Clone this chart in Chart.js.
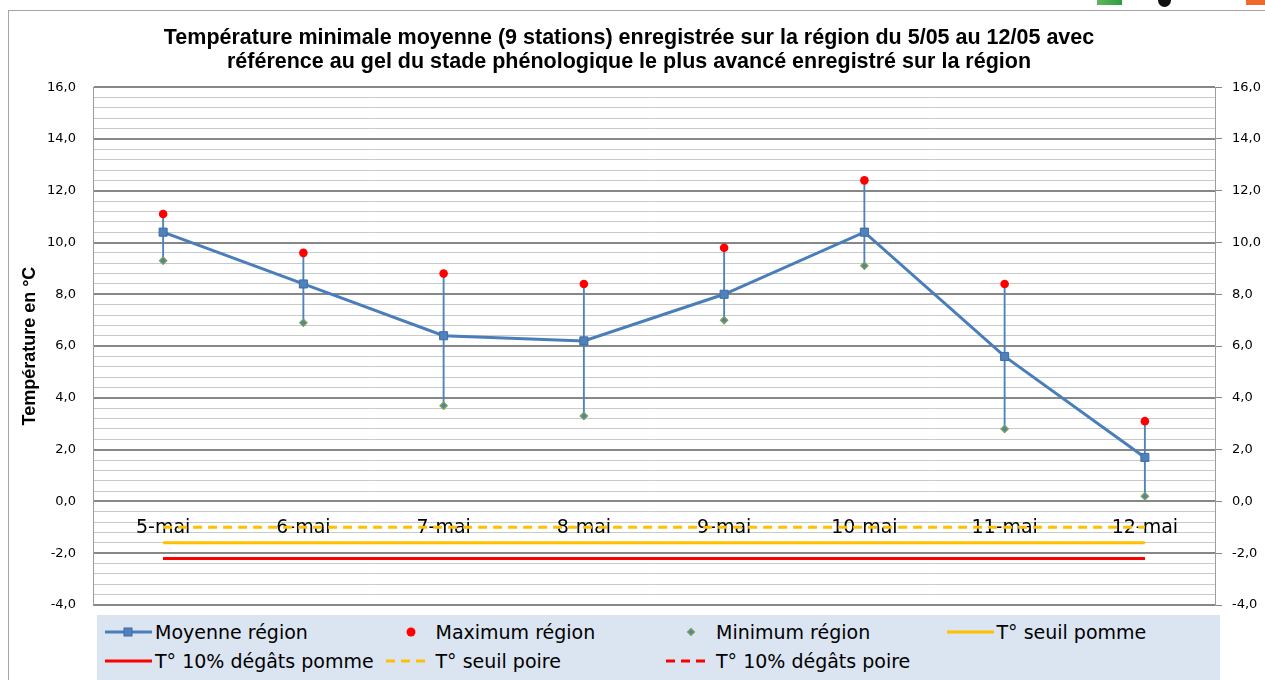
<!DOCTYPE html>
<html>
<head>
<meta charset="utf-8">
<script src="https://cdn.jsdelivr.net/npm/chart.js@4.4.1/dist/chart.umd.min.js"></script>
<style>
html, body { margin: 0; padding: 0; background: #fff; overflow: hidden; }
#wrap { position: relative; width: 1265px; height: 680px; overflow: hidden; }
#frame { position: absolute; left: 8px; top: 10px; width: 1300px; height: 700px; border: 1px solid #a5a5a5; }
#chart-area { position: absolute; left: 0; top: 0; }
#legend { position: absolute; left: 97px; top: 615px; width: 1123px; height: 80px; background: #dbe5f1;
          font-family: 'DejaVu Sans', sans-serif; font-size: 19px; color: #000; }
.item { position: absolute; height: 24px; display: flex; align-items: center; white-space: nowrap; }
.item svg { flex: none; }
.ico { position: absolute; top: -6px; }
</style>
</head>
<body>
<div id="wrap">
  <div id="frame"></div>
  <div class="ico" style="left:1097px;width:25px;height:11px;background:linear-gradient(90deg,#5cb85c,#2e9e3e);"></div>
  <div class="ico" style="left:1158px;width:13px;height:13px;border-radius:50%;background:#111;"></div>
  <div class="ico" style="left:1246px;width:22px;height:11px;background:#f0682c;"></div>
  <canvas id="chart-area" width="1265" height="680"></canvas>
  <div id="legend"></div>
</div>
<script>
var categories = ['5-mai', '6-mai', '7-mai', '8-mai', '9-mai', '10-mai', '11-mai', '12-mai'];
var moyenne = [10.4, 8.4, 6.4, 6.2, 8.0, 10.4, 5.6, 1.7];
var maximum = [11.1, 9.6, 8.8, 8.4, 9.8, 12.4, 8.4, 3.1];
var minimum = [9.3, 6.9, 3.7, 3.3, 7.0, 9.1, 2.8, 0.2];
var seuilPomme = [-1.6, -1.6, -1.6, -1.6, -1.6, -1.6, -1.6, -1.6];
var degatsPomme = [-2.2, -2.2, -2.2, -2.2, -2.2, -2.2, -2.2, -2.2];
var seuilPoire = [-1.0, -1.0, -1.0, -1.0, -1.0, -1.0, -1.0, -1.0];
var degatsPoire = [-2.2, -2.2, -2.2, -2.2, -2.2, -2.2, -2.2, -2.2];

var yMin = -4, yMax = 16, yMajor = 2, yMinor = 0.4;

var titleLines = [
    'Température minimale moyenne (9 stations) enregistrée sur la région du 5/05 au 12/05 avec',
    'référence au gel du stade phénologique le plus avancé enregistré sur la région'
];

var titleFont = "'Liberation Sans', sans-serif";

var isMajor = function(v) {
    return Math.abs(v / yMajor - Math.round(v / yMajor)) < 1e-6;
};
var fmt = function(v) {
    return Number(v).toFixed(1).replace('.', ',');
};

// error bars: one thin floating bar per day, from min to max
var errorBars = [];
for (var i = 0; i < categories.length; i++) {
    errorBars.push([minimum[i], maximum[i]]);
}

var symbol = function(ds) {
    var s = '<svg width="55" height="24">';
    if (ds.showLine !== false) {
        var dash = ds.borderDash ? ' stroke-dasharray="' + ds.borderDash.join(' ') + '"' : '';
        var x2 = ds.borderDash ? 45 : 52;
        s += '<line x1="5" y1="12" x2="' + x2 + '" y2="12" stroke="' + ds.borderColor + '" stroke-width="' + ds.borderWidth + '"' + dash + '/>';
    }
    var cx = ds.showLine === false ? 30 : 28;
    if (ds.pointStyle === 'rect' && ds.pointRadius > 0) {
        s += '<rect x="' + (cx - 4) + '" y="8" width="8" height="8" fill="' + ds.pointBackgroundColor + '" stroke="' + ds.pointBorderColor + '" stroke-width="1"/>';
    } else if (ds.pointStyle === 'circle') {
        s += '<circle cx="' + cx + '" cy="12" r="4.5" fill="' + ds.pointBackgroundColor + '"/>';
    } else if (ds.pointStyle === 'rectRot') {
        s += '<polygon points="' + cx + ',8.5 ' + (cx + 3.5) + ',12 ' + cx + ',15.5 ' + (cx - 3.5) + ',12" fill="' + ds.pointBackgroundColor + '" stroke="' + ds.pointBorderColor + '" stroke-width="1.2"/>';
    }
    return s + '</svg>';
};

var htmlLegend = {
    id: 'htmlLegend',
    afterLayout: function(chart) {
        // centre the title over the frame, not the whole canvas
        if (chart.titleBlock) {
            chart.titleBlock.left = 8;
            chart.titleBlock.right = 1250;
        }
    },
    afterUpdate: function(chart) {
        var box = document.getElementById('legend');
        box.innerHTML = '';
        var n = 0;
        chart.data.datasets.forEach(function(ds) {
            if (ds.type === 'bar') return;
            var row = n < 4 ? 0 : 1;
            var col = n < 4 ? n : n - 4;
            var item = document.createElement('div');
            item.className = 'item';
            item.style.left = (3 + col * 280.5) + 'px';
            item.style.top = (row === 0 ? 5 : 34) + 'px';
            item.innerHTML = symbol(ds) + '<span>' + ds.label + '</span>';
            box.appendChild(item);
            n++;
        });
    }
};

var config = {
    type: 'line',
    data: {
        labels: categories,
        datasets: [{
            label: 'Moyenne région',
            data: moyenne,
            borderColor: '#4a7ebb',
            borderWidth: 3,
            pointStyle: 'rect',
            pointRadius: 5.7,
            pointBackgroundColor: '#4f81bd',
            pointBorderColor: '#3d6da6',
            pointBorderWidth: 1
        }, {
            label: 'Maximum région',
            data: maximum,
            showLine: false,
            pointStyle: 'circle',
            pointRadius: 4.3,
            pointBackgroundColor: '#ff0000',
            pointBorderColor: '#ff0000',
            pointBorderWidth: 0
        }, {
            label: 'Minimum région',
            data: minimum,
            showLine: false,
            pointStyle: 'rectRot',
            pointRadius: 3.6,
            pointBackgroundColor: '#4f81bd',
            pointBorderColor: '#7fa345',
            pointBorderWidth: 1.3
        }, {
            label: 'T° seuil pomme',
            data: seuilPomme,
            borderColor: '#ffc000',
            borderWidth: 3,
            pointRadius: 0
        }, {
            label: 'T° 10% dégâts pomme',
            data: degatsPomme,
            borderColor: '#ff0000',
            borderWidth: 3,
            pointRadius: 0
        }, {
            label: 'T° seuil poire',
            data: seuilPoire,
            borderColor: '#ffc000',
            borderWidth: 3,
            borderDash: [9, 6],
            pointRadius: 0
        }, {
            label: 'T° 10% dégâts poire',
            data: degatsPoire,
            borderColor: '#ff0000',
            borderWidth: 3,
            borderDash: [9, 6],
            pointRadius: 0
        }, {
            type: 'bar',
            label: 'barres',
            data: errorBars,
            backgroundColor: '#4f81bd',
            barThickness: 1.2
        }]
    },
    options: {
        responsive: false,
        animation: false,
        layout: { padding: { left: 8, right: 0, top: 12, bottom: 75 } },
        plugins: {
            legend: { display: false },
            tooltip: { enabled: false },
            title: {
                display: true,
                text: titleLines,
                color: '#000',
                font: { family: titleFont, size: 21.5, weight: 'bold', lineHeight: 1.12 },
                padding: { top: 14, bottom: 13 }
            }
        },
        scales: {
            x: {
                type: 'category',
                position: { y: 0 },
                offset: true,
                z: 1,
                grid: { display: false, drawTicks: false },
                border: { display: false },
                ticks: {
                    padding: 15,
                    color: '#000',
                    autoSkip: false,
                    maxRotation: 0,
                    font: { family: 'DejaVu Sans', size: 19 }
                }
            },
            y: {
                type: 'linear',
                position: 'left',
                min: yMin,
                max: yMax,
                afterFit: function(s) { s.width = 85; },
                ticks: {
                    stepSize: yMinor,
                    autoSkip: false,
                    padding: 17,
                    color: '#000',
                    font: { family: 'DejaVu Sans', size: 13 },
                    callback: function(v) { return isMajor(v) ? fmt(v) : ''; }
                },
                grid: {
                    drawTicks: false,
                    color: function(c) { return isMajor(c.tick.value) ? '#878787' : '#c9c9c9'; },
                    lineWidth: function(c) { return isMajor(c.tick.value) ? 2 : 1; }
                },
                border: { display: true, color: '#9d9d9d', width: 1 },
                title: {
                    display: true,
                    text: 'Température en °C',
                    color: '#000',
                    font: { family: titleFont, size: 18, weight: 'bold', lineHeight: 1.2 },
                    padding: { top: 11, bottom: 0 }
                }
            },
            y2: {
                type: 'linear',
                position: 'right',
                min: yMin,
                max: yMax,
                afterFit: function(s) { s.width = 50; },
                ticks: {
                    stepSize: yMajor,
                    padding: 10,
                    color: '#000',
                    font: { family: 'DejaVu Sans', size: 13 },
                    callback: function(v) { return fmt(v); }
                },
                grid: {
                    drawOnChartArea: false,
                    drawTicks: true,
                    tickLength: 7,
                    tickColor: '#878787'
                },
                border: { display: true, color: '#9d9d9d', width: 1 }
            }
        }
    },
    plugins: [htmlLegend]
};

window.onload = function() {
    var ctx = document.getElementById('chart-area').getContext('2d');
    window.myChart = new Chart(ctx, config);
};
</script>
</body>
</html>
